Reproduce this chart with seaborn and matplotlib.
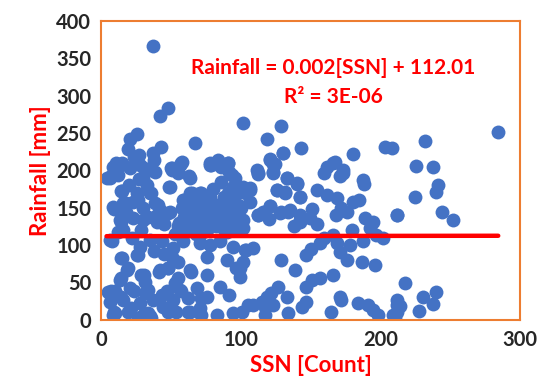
import matplotlib
matplotlib.use("Agg")
import matplotlib.pyplot as plt
import seaborn as sns
import numpy as np
import pandas as pd

# SSN [count] and monthly rainfall [mm]
ssn = [
    37, 48, 42, 102, 25.5, 21, 19, 43, 37.5, 67, 27, 11, 58, 50.6, 78, 84, 91,
    128.6, 119, 143, 130, 121, 124.6, 180.6, 203, 208, 167.5, 161.5, 173, 112,
    284.4, 232, 225.5, 238, 241, 240, 225, 212, 244, 252,
    217.6, 211.6, 214, 210.5, 230.7, 240, 238, 227.6, 211.6,
    112.6, 123, 123, 133, 140, 126, 132, 142.5, 154.4, 161.6, 168.7, 160, 166,
    171, 173.5, 187.8, 188, 180.6, 176, 121, 128, 134, 142.5, 151, 142.5,
    149.6, 112.6, 106.7, 104, 106.7, 99.5, 101.6, 211.7, 189, 195, 192.6, 197,
    202, 187.8, 178, 168.7, 166, 156.8, 171, 176, 186.6, 196, 147, 129, 138.9,
    166, 156.8, 151, 147, 127, 122, 118.6, 133, 115, 109, 117.4, 123, 117.4,
    134, 143.7, 147, 165, 171, 172, 184, 191, 195, 198.5, 209, 211.7, 99.5,
    102, 103, 109, 100.7,
    8.8, 14.8, 20.8, 28, 34, 38.7, 6.4, 12.4, 30, 50.6, 56.5, 55, 63.7, 79, 86,
    92, 96, 49.4, 14.8, 25.5, 35, 8.8, 16, 23, 38.7, 42, 49.4, 13.6, 23, 30,
    40, 59, 63.7, 71, 78, 61, 68.5, 75.6, 82.8, 61, 71, 78, 85, 92, 98, 104,
    98, 102, 91, 63.7, 73, 87.5, 7.6, 16, 35, 43.4, 51.8, 59, 71, 78, 85, 94.7,
    104, 25.5, 14.8, 50.6, 75.6, 90, 18.4, 29, 42, 48, 63.7, 75.6, 97, 99.5,
    13.6, 31.5, 53, 10, 20.8, 31.5, 47, 56.5, 68.5, 85, 75.6, 62.5, 92, 6.4,
    16, 28, 37.5, 51.8, 10, 19.5, 30, 35, 44.6, 54, 63.7, 71, 82.8, 94.7, 105,
    4, 6.4, 5, 8.6,
    78, 84, 91, 93.5, 94.7, 90, 106.7, 112.6, 121, 130.5, 123, 133, 140, 125.8,
    131.7, 142.5, 121, 129, 135, 112.6, 142.5, 75.6, 78, 85, 97, 102, 94.7,
    7.2, 14.3, 23.8, 31, 38, 50, 57, 63, 49, 14.3, 35.8, 9.5, 17.9, 26.3, 40.6,
    47.7, 14.3, 33.4, 59.6, 66.8, 71.6, 59.6, 69.2, 76.4, 64.4, 55, 28.6,
    14.3, 26.3, 19, 31, 41.7, 47.7, 55, 64.4, 14.3, 7.2, 14.3, 23.8, 33.4, 44,
    57, 71.6, 9.5, 21.5, 33.4, 47.7, 62, 71.6, 26.3, 35.8,
    58, 62, 66, 70, 74, 80, 84, 88, 92, 96, 60, 68, 76, 82, 90, 65, 72, 80, 86,
    94, 100, 56, 63, 69, 88, 97, 53, 45, 40, 20, 27, 33, 18, 30, 12, 22, 28,
    38, 45, 55, 116, 120, 138, 155, 168, 172, 185, 180, 160, 150,
]
rainfall = [
    367, 284, 273, 263, 249, 242, 229, 232, 224, 237, 221, 210, 211, 203, 210,
    214, 210,
    259, 242, 230, 223, 216, 209, 222, 232, 230, 211, 204, 201, 201,
    251, 239.5, 206, 205, 180, 171, 165, 141, 144, 134,
    49, 27, 19, 4, 31, 37, 21, 12, 11,
    195, 196, 209, 190, 182, 174, 169.5, 165, 174, 167, 163, 196, 209.6, 192,
    196, 187, 182, 158, 145, 152, 143, 145, 140, 149, 131.5, 136, 140, 158,
    169.5, 176, 152, 134, 140, 136, 131.5, 122.7, 113.7, 109, 105, 100, 102.6,
    113.7, 102.6, 91.4, 80, 78, 73.6, 87, 80, 67, 60, 55.8, 53.5, 44.6, 44.6,
    35.7, 31, 31, 24.5, 20, 17.8, 20, 6.7, 9, 17.8, 24.5, 11, 31, 27, 22, 20,
    13, 6.7, 6.7, 20, 69, 78, 93.6, 96, 11,
    205, 209.6, 203, 207, 200.7, 198, 189.6, 194, 189.6, 200.7, 207, 196, 189.6,
    207, 205, 198, 189.6, 178, 172, 169.5, 169.5, 151.6, 156, 158, 156, 147,
    145, 134, 136, 134, 131.5, 160.5, 169.5, 169.5, 165, 151.6, 147, 147, 154,
    134, 131.5, 134, 136, 140, 131.5, 169.5, 169.5, 178, 169.5, 125, 118,
    122.7, 105, 120, 107, 105, 96, 105, 102.6, 100, 105, 98, 93.6, 87, 82.5,
    84.7, 84.7, 80, 67, 60, 67, 69, 67, 60, 69, 58, 53.5, 51, 49, 38, 42.4,
    35.7, 38, 40, 42.4, 44.6, 31, 29, 33.4, 24.5, 26.8, 22.3, 26.8, 26.8, 9,
    11, 6.7, 4.5, 17.8, 11, 11, 15.6, 6.7, 9, 20,
    190, 107, 37, 7,
    207, 212, 210, 194, 178, 165, 174, 196, 214, 223, 198.5, 190, 183, 174,
    171.7, 165, 152, 145, 147, 140.5, 134, 160.5, 143, 138, 138, 122.7, 129,
    192, 207, 218.5, 203, 214, 203, 209.6, 192, 178, 172, 169.5, 149, 156,
    160.5, 154, 143, 131.5, 138, 160.5, 167, 169.5, 138, 143, 151.6, 125, 125,
    120,
    82.5, 87, 69, 60, 64.6, 69, 55.8, 64.6, 55.8, 38, 31, 38, 40, 33.4, 38,
    29, 11, 15.6, 9, 11, 11, 6.7, 2, 2,
    150, 140, 155, 138, 128, 142, 150, 130, 152, 145, 118, 115, 120, 125, 118,
    170, 160, 175, 185, 160, 150, 130, 128, 132, 165, 122, 115, 128, 140, 180,
    188, 180, 145, 150, 118, 110, 98, 92, 88, 78, 145, 135, 125, 128, 140, 150,
    160, 120, 110, 95,
]

# Excel linear trendline shown on the chart
slope = 0.002
intercept = 112.01
x_ticks = [0, 100, 200, 300]
y_ticks = [0, 50, 100, 150, 200, 250, 300, 350, 400]

df = pd.DataFrame({"SSN": ssn, "Rainfall": rainfall})

sns.set_style("white")
plt.rcParams["font.family"] = ["Lato", "DejaVu Sans"]

fig = plt.figure(figsize=(5.4, 3.91), dpi=100)
ax = fig.add_axes([0.187, 0.182, 0.776, 0.764])

sns.scatterplot(data=df, x="SSN", y="Rainfall", ax=ax, color="#4472C4",
                s=100, linewidth=0, alpha=1, zorder=2)

trend_x = np.array([df["SSN"].min(), df["SSN"].max()])
ax.plot(trend_x, slope * trend_x + intercept, color="#FF0000", lw=3.2,
        solid_capstyle="round", zorder=3)

ax.set_xlim(0, 300)
ax.set_ylim(0, 400)
ax.set_xticks(x_ticks)
ax.set_yticks(y_ticks)
ax.tick_params(axis="both", length=0, labelsize=14.5, pad=7)
for lab in ax.get_xticklabels() + ax.get_yticklabels():
    lab.set_fontweight("bold")

for sp in ax.spines.values():
    sp.set_color("#ED7D31")
    sp.set_linewidth(1.5)

ax.set_xlabel("SSN [Count]", color="#FF0000", fontsize=16, fontweight="bold",
              labelpad=4)
ax.set_ylabel("Rainfall [mm]", color="#FF0000", fontsize=16, fontweight="bold",
              labelpad=4)

ax.text(0.555, 0.843, "Rainfall = 0.002[SSN] + 112.01", transform=ax.transAxes,
        ha="center", va="center", color="#FF0000", fontsize=15, fontweight="bold")
ax.text(0.555, 0.745, "R² = 3E-06", transform=ax.transAxes,
        ha="center", va="center", color="#FF0000", fontsize=15, fontweight="bold")

fig.savefig("out.png", dpi=100)
